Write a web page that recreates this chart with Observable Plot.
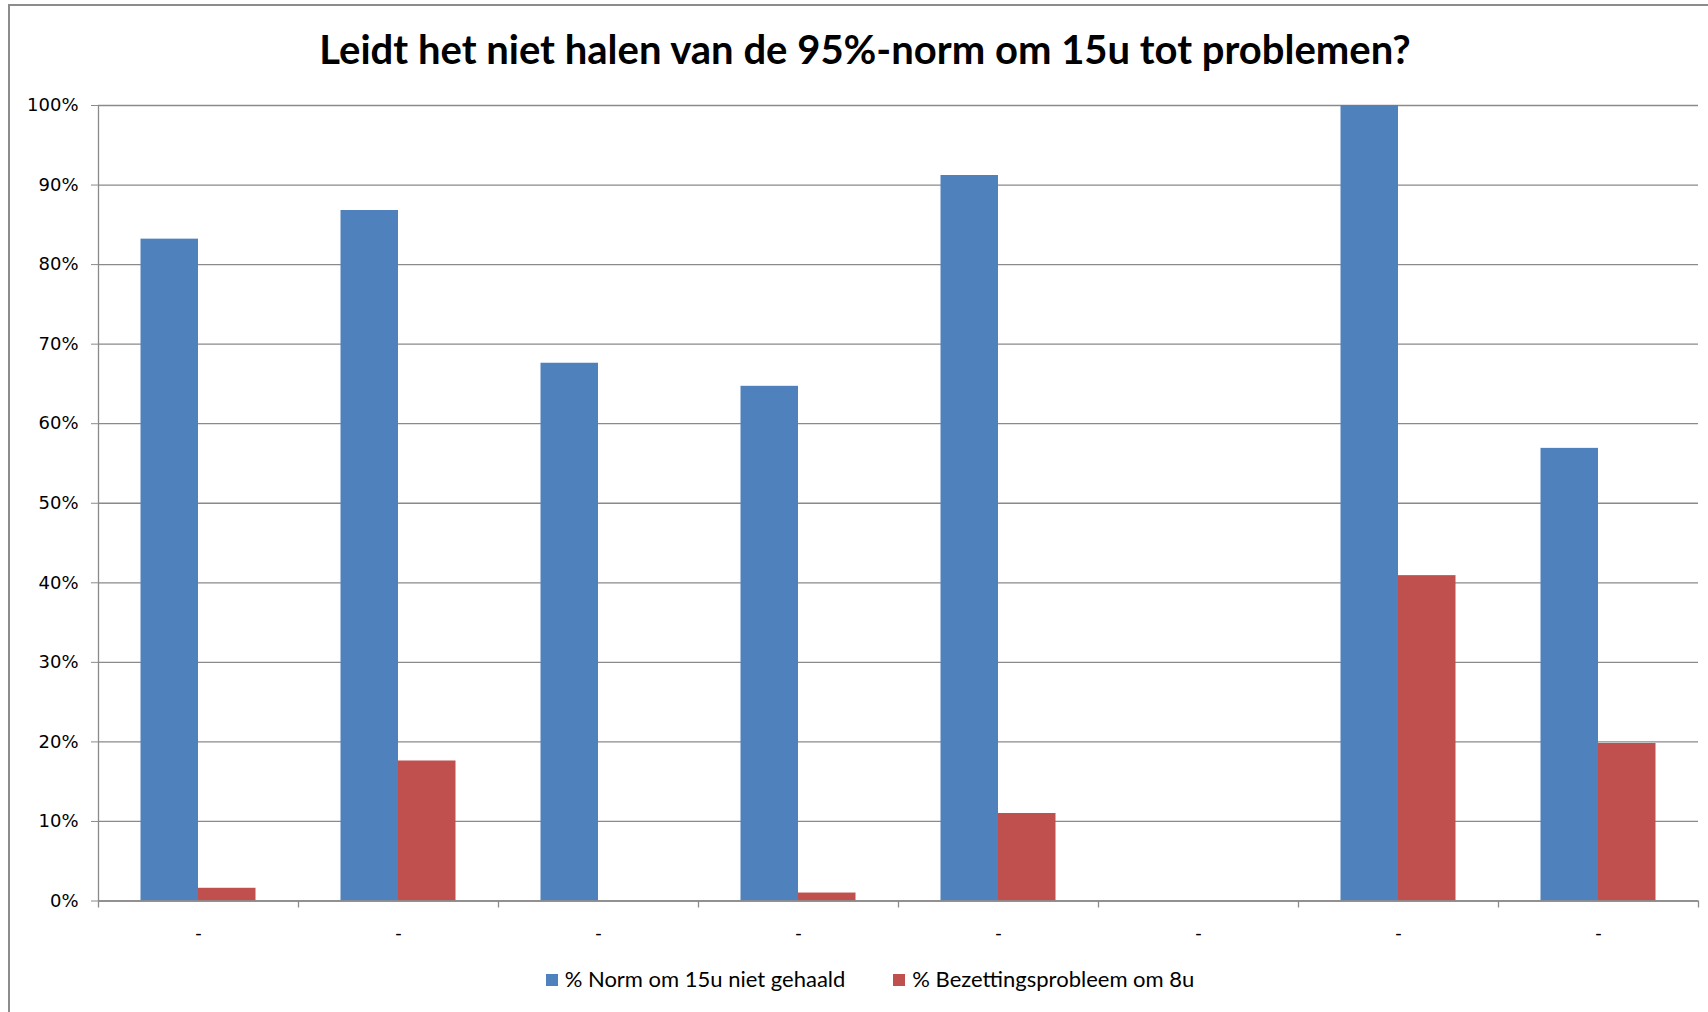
<!DOCTYPE html>
<html>
<head>
<meta charset="utf-8">
<script src="https://cdn.jsdelivr.net/npm/d3@7"></script>
<script src="https://cdn.jsdelivr.net/npm/@observablehq/plot@0.6"></script>
<style>
  html, body { margin: 0; padding: 0; background: #fff; }
  #wrap { position: relative; width: 1708px; height: 1012px; overflow: hidden; background: #fff; }
  .bt { position: absolute; top: 4px; left: 8px; right: 0; height: 2px; background: #8c8c8c; }
  .bl { position: absolute; top: 4px; left: 8px; bottom: 0; width: 2px; background: #8c8c8c; }
  #title { position: absolute; top: 27px; left: 0; width: 1730px; text-align: center;
    font: 700 40px Lato, "Open Sans", sans-serif; line-height: 44px; color: #000; }
  #chart { position: absolute; top: 88px; left: 0; }
  #legend { position: absolute; top: 966px; left: 0; width: 1740px; display: flex; justify-content: center; gap: 48px;
    font: 400 22px Lato, sans-serif; line-height: 26px; color: #000; }
  .item { display: flex; align-items: center; gap: 7px; }
  .sw { width: 12px; height: 12px; display: inline-block; margin-top: 2px; }
</style>
</head>
<body>
<div id="wrap">
  <div class="bt"></div>
  <div class="bl"></div>
  <div id="title"></div>
  <div id="chart"></div>
  <div id="legend"></div>
</div>
<script>
const titleText = "Leidt het niet halen van de 95%-norm om 15u tot problemen?";
const categoryLabels = ["-", "-", "-", "-", "-", "-", "-", "-"];
const normNietGehaald = [83.2, 86.8, 67.6, 64.7, 91.2, null, 100, 56.9];
const bezettingsprobleem = [1.6, 17.6, null, 1.0, 11.0, null, 40.9, 19.8];
const seriesNames = ["% Norm om 15u niet gehaald", "% Bezettingsprobleem om 8u"];
const seriesColors = ["#4F81BD", "#C0504D"];
const yTicks = [0, 10, 20, 30, 40, 50, 60, 70, 80, 90, 100];

const rows = categoryLabels.map((c, i) => ({idx: i, label: c, norm: normNietGehaald[i], bez: bezettingsprobleem[i]}));

document.getElementById("title").textContent = titleText;

const W = 1708, H = 860, mL = 98, mR = 10, mT = 17, mB = 47.5;
const bw = (W - mL - mR) / categoryLabels.length;
const gray = "#8a8a8a";
const font = "'DejaVu Sans', sans-serif";

const chart = Plot.plot({
  width: W, height: H,
  marginLeft: mL, marginRight: mR, marginTop: mT, marginBottom: mB,
  style: {fontFamily: font, fontSize: "18px", color: "#000", background: "transparent"},
  x: {type: "band", domain: rows.map(d => d.idx), padding: 0, label: null},
  y: {domain: [0, 100], label: null},
  marks: [
    Plot.ruleY(yTicks, {y: d => d, stroke: gray, strokeWidth: 1.3}),
    Plot.barY(rows, {x: "idx", y: "norm", fill: seriesColors[0], insetLeft: bw * 0.2125, insetRight: bw * 0.5}),
    Plot.barY(rows, {x: "idx", y: "bez", fill: seriesColors[1], insetLeft: bw * 0.5, insetRight: bw * 0.2125}),
    Plot.ruleX(rows.slice(0, 1), {x: "idx", y1: () => 100, y2: () => 0, dx: -bw / 2, insetBottom: -7, stroke: gray, strokeWidth: 1.3}),
    Plot.ruleX(rows, {x: "idx", y1: () => 0, y2: () => 0, dx: bw / 2, insetBottom: -7, stroke: gray, strokeWidth: 1.3}),
    Plot.ruleY([0], {y: d => d, stroke: gray, strokeWidth: 1.6}),
    Plot.axisY({ticks: yTicks, tickFormat: d => d + "%", tickSize: 7, tickPadding: 13, stroke: gray, fill: "#000", fontSize: 18, label: null}),
    Plot.axisX({tickFormat: i => categoryLabels[i], tickSize: 0, tickPadding: 25, fill: "#000", fontSize: 18, label: null})
  ]
});
document.getElementById("chart").appendChild(chart);

const legend = document.getElementById("legend");
seriesNames.forEach((name, i) => {
  const it = document.createElement("div");
  it.className = "item";
  const sw = document.createElement("span");
  sw.className = "sw";
  sw.style.background = seriesColors[i];
  const tx = document.createElement("span");
  tx.textContent = name;
  it.appendChild(sw); it.appendChild(tx);
  legend.appendChild(it);
});
</script>
</body>
</html>
